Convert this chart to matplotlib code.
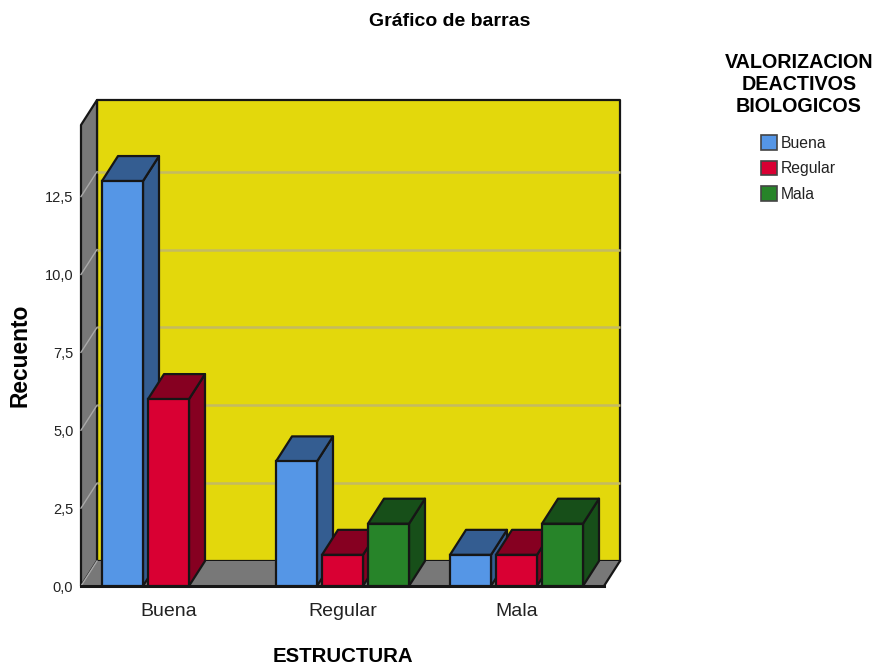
import matplotlib
matplotlib.use("Agg")
import matplotlib.pyplot as plt
from matplotlib.patches import Patch, Polygon, Rectangle

plt.rcParams["font.family"] = ["Liberation Sans"]

categories = ["Buena", "Regular", "Mala"]
series_names = ["Buena", "Regular", "Mala"]
buena_vals = [13, 4, 1]
regular_vals = [6, 1, 1]
mala_vals = [0, 2, 2]
y_ticks = [0, 2.5, 5, 7.5, 10, 12.5]
y_tick_labels = ["0,0", "2,5", "5,0", "7,5", "10,0", "12,5"]

W, H = 878, 667
fig = plt.figure(figsize=(W / 100, H / 100), dpi=100)
# axes = front plane of the 3d box, in pixels of the reference
ax = fig.add_axes([81 / W, 1 - 586 / H, (604 - 81) / W, (586 - 125) / H])

px_x = 174.0   # pixels per category
px_y = 31.15   # pixels per count
ax.set_xlim(-87.5 / px_x, 2 + 87.5 / px_x)
ax.set_ylim(0, 461 / px_y)
x0, x1 = ax.get_xlim()
y0, y1 = ax.get_ylim()

# depth of the box and of the bars
dx = 16 / px_x
dy = 25 / px_y
bar_w = 41 / px_x
step = 46 / px_x

edge = "#161616"
wall_gray = "#787878"
grid_col = "#C4BA62"
lw = 1.6


def poly(pts, fc, ec=edge, lw_=lw, z=1):
    ax.add_patch(Polygon(pts, closed=True, facecolor=fc, edgecolor=ec,
                         linewidth=lw_, joinstyle="round", clip_on=False, zorder=z))


# walls and floor
poly([(x0 + dx, y0 + dy), (x1 + dx, y0 + dy), (x1 + dx, y1 + dy), (x0 + dx, y1 + dy)], "#E3D80C", z=1)
poly([(x0, y0), (x0 + dx, y0 + dy), (x0 + dx, y1 + dy), (x0, y1)], wall_gray, z=1)
poly([(x0, y0), (x1, y0), (x1 + dx, y0 + dy), (x0 + dx, y0 + dy)], wall_gray, ec="none", z=1)
ax.plot([x1, x1 + dx], [y0, y0 + dy], color=edge, lw=lw, clip_on=False, zorder=1.5)
ax.plot([x0, x1], [y0, y0], color=edge, lw=2.2, clip_on=False, zorder=1.5)

# grid lines on back wall and side wall
for t in y_ticks:
    if t > 0:
        ax.plot([x0 + dx, x1 + dx], [t + dy, t + dy], color=grid_col, lw=1.8,
                solid_capstyle="butt", clip_on=False, zorder=1.2)
    ax.plot([x0, x0 + dx], [t, t + dy], color="#A8A8A8", lw=1.0, clip_on=False, zorder=1.2)

series = [
    (buena_vals, "#5596E6", "#345D91", "#345D91"),
    (regular_vals, "#D90033", "#860021", "#860021"),
    (mala_vals, "#278429", "#174F19", "#174F19"),
]

z = 2
for c in range(len(categories)):
    for s, (vals, front, side, top) in enumerate(series):
        v = vals[c]
        if v == 0:
            continue
        left = c + (s - 1) * step - bar_w / 2
        right = left + bar_w
        poly([(right, 0), (right + dx, dy), (right + dx, v + dy), (right, v)], side, z=z)
        poly([(left, v), (right, v), (right + dx, v + dy), (left + dx, v + dy)], top, z=z)
        ax.add_patch(Rectangle((left, 0), bar_w, v, facecolor=front, edgecolor=edge,
                               linewidth=lw, clip_on=False, zorder=z))
        z += 1

for sp in ax.spines.values():
    sp.set_visible(False)
ax.patch.set_visible(False)
ax.set_xticks(range(len(categories)))
ax.set_xticklabels(categories, fontsize=14, color="#222222")
ax.set_yticks(y_ticks)
ax.set_yticklabels(y_tick_labels, fontsize=10.5, color="#222222")
ax.tick_params(axis="x", length=0, pad=12.5)
ax.tick_params(axis="y", length=0, pad=5.5)

fig.text(450 / W, 1 - 21 / H, "Gráfico de barras", ha="center", va="center",
         fontsize=14, fontweight="bold")
fig.text(343 / W, 1 - 656 / H, "ESTRUCTURA", ha="center", va="center",
         fontsize=14.7, fontweight="bold")
fig.text(20 / W, 1 - 355 / H, "Recuento", ha="center", va="center", rotation=90,
         fontsize=16.4, fontweight="bold")
fig.text(799 / W, 1 - 85 / H, "VALORIZACION\nDEACTIVOS\nBIOLOGICOS", ha="center", va="center",
         fontsize=14.2, fontweight="bold", linespacing=1.2)

handles = [Patch(facecolor=s[1], edgecolor="#444444", linewidth=1.2) for s in series]
fig.legend(handles, series_names, loc="upper left", bbox_to_anchor=(761 / W, 1 - 135 / H),
           frameon=False, fontsize=11.3, handlelength=1.05, handleheight=1.05,
           labelspacing=0.63, handletextpad=0.2, borderaxespad=0, borderpad=0,
           labelcolor="#222222")

fig.savefig("out.png", dpi=100)
